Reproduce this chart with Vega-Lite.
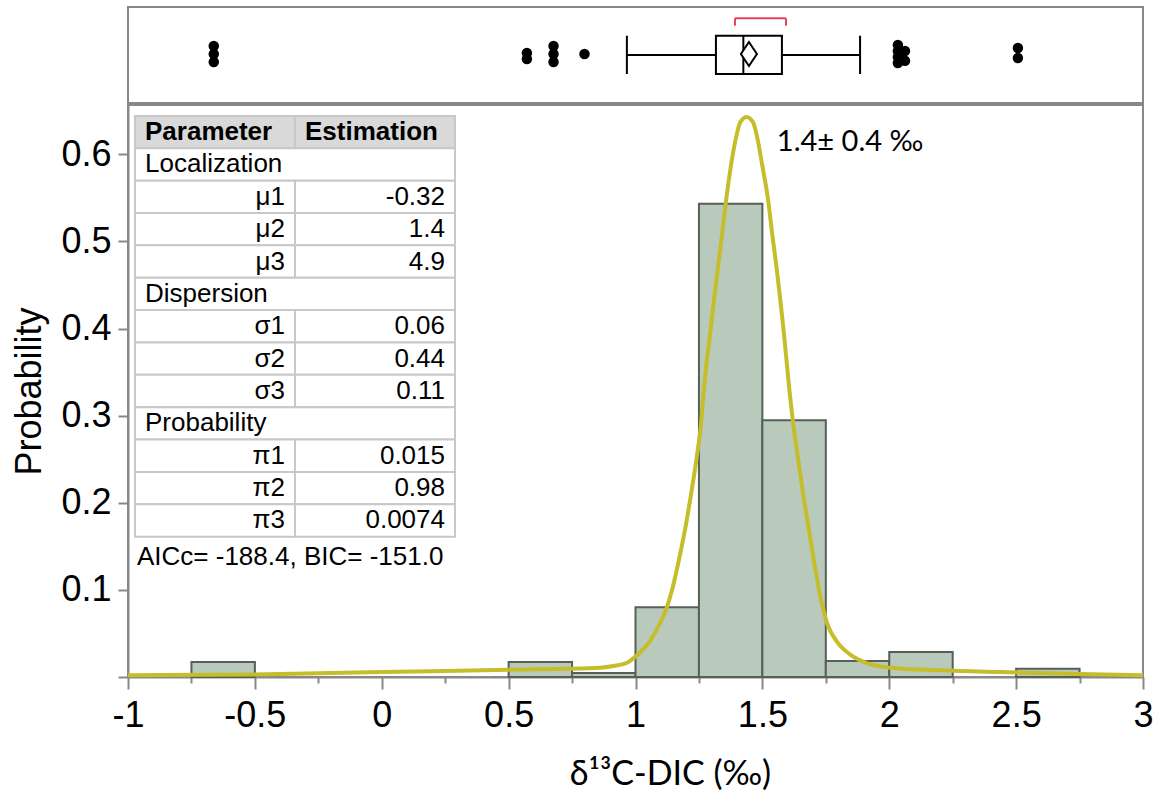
{
  "$schema": "https://vega.github.io/schema/vega-lite/v6.json",
  "padding": {"left": 10, "top": 6, "right": 16, "bottom": 5},
  "spacing": 0,
  "config": {
    "view": {"stroke": "#888888", "strokeWidth": 2},
    "axis": {"domainColor": "#888888", "domainWidth": 2, "tickColor": "#888888", "tickWidth": 2, "labelFont": "Liberation Sans", "labelFontSize": 36, "labelColor": "black", "titleColor": "black", "grid": false},
    "text": {"font": "Liberation Sans"}
  },
  "datasets": {
    "bars": [
      {"bin_start": -0.75, "bin_end": -0.5, "prob": 0.0172},
      {"bin_start": 0.5, "bin_end": 0.75, "prob": 0.0172},
      {"bin_start": 0.75, "bin_end": 1.0, "prob": 0.0046},
      {"bin_start": 1.0, "bin_end": 1.25, "prob": 0.080},
      {"bin_start": 1.25, "bin_end": 1.5, "prob": 0.5434},
      {"bin_start": 1.5, "bin_end": 1.75, "prob": 0.2947},
      {"bin_start": 1.75, "bin_end": 2.0, "prob": 0.0184},
      {"bin_start": 2.0, "bin_end": 2.25, "prob": 0.0287},
      {"bin_start": 2.5, "bin_end": 2.75, "prob": 0.0095}
    ],
    "curve": [
      {"x": -1, "p": 0.002}, {"x": -0.5, "p": 0.003}, {"x": 0, "p": 0.0057}, {"x": 0.5, "p": 0.0084},
      {"x": 0.861, "p": 0.0107}, {"x": 0.913, "p": 0.0126}, {"x": 0.965, "p": 0.0161}, {"x": 1.011, "p": 0.0264},
      {"x": 1.057, "p": 0.0413}, {"x": 1.094, "p": 0.0602}, {"x": 1.123, "p": 0.0796}, {"x": 1.143, "p": 0.0987},
      {"x": 1.173, "p": 0.1369}, {"x": 1.199, "p": 0.1752}, {"x": 1.221, "p": 0.2135}, {"x": 1.241, "p": 0.2518},
      {"x": 1.258, "p": 0.29}, {"x": 1.269, "p": 0.3284}, {"x": 1.278, "p": 0.355}, {"x": 1.294, "p": 0.394},
      {"x": 1.309, "p": 0.432}, {"x": 1.325, "p": 0.47}, {"x": 1.341, "p": 0.508}, {"x": 1.357, "p": 0.547},
      {"x": 1.375, "p": 0.585}, {"x": 1.399, "p": 0.623}, {"x": 1.413, "p": 0.637}, {"x": 1.438, "p": 0.643},
      {"x": 1.463, "p": 0.637}, {"x": 1.477, "p": 0.623}, {"x": 1.501, "p": 0.585}, {"x": 1.523, "p": 0.547},
      {"x": 1.539, "p": 0.508}, {"x": 1.556, "p": 0.47}, {"x": 1.571, "p": 0.432}, {"x": 1.585, "p": 0.394},
      {"x": 1.598, "p": 0.355}, {"x": 1.607, "p": 0.328}, {"x": 1.622, "p": 0.29}, {"x": 1.64, "p": 0.252},
      {"x": 1.659, "p": 0.213}, {"x": 1.68, "p": 0.175}, {"x": 1.701, "p": 0.137}, {"x": 1.724, "p": 0.099},
      {"x": 1.738, "p": 0.08}, {"x": 1.757, "p": 0.06}, {"x": 1.793, "p": 0.041}, {"x": 1.845, "p": 0.026},
      {"x": 1.911, "p": 0.016}, {"x": 2.003, "p": 0.0107}, {"x": 2.2, "p": 0.0078}, {"x": 2.44, "p": 0.0057},
      {"x": 2.7, "p": 0.0038}, {"x": 3.0, "p": 0.002}
    ],
    "outliers": [
      {"x": -0.662, "y": 0.594}, {"x": -0.662, "y": 0.51}, {"x": -0.662, "y": 0.427},
      {"x": 0.572, "y": 0.521}, {"x": 0.572, "y": 0.458},
      {"x": 0.677, "y": 0.594}, {"x": 0.677, "y": 0.51}, {"x": 0.677, "y": 0.427},
      {"x": 0.799, "y": 0.51},
      {"x": 2.034, "y": 0.604}, {"x": 2.034, "y": 0.542}, {"x": 2.034, "y": 0.479}, {"x": 2.034, "y": 0.417},
      {"x": 2.062, "y": 0.542}, {"x": 2.062, "y": 0.44},
      {"x": 2.507, "y": 0.573}, {"x": 2.507, "y": 0.469}
    ],
    "box": [
      {"lo": 0.966, "q1": 1.317, "median": 1.425, "mean": 1.447, "q3": 1.577, "hi": 1.885, "ci_lo": 1.392, "ci_hi": 1.593}
    ],
    "table": [
      {"row": 0, "c0": 0, "c1": 1, "label": "Parameter", "kind": "header"},
      {"row": 0, "c0": 1, "c1": 2, "label": "Estimation", "kind": "header"},
      {"row": 1, "c0": 0, "c1": 2, "label": "Localization", "kind": "section"},
      {"row": 2, "c0": 0, "c1": 1, "label": "μ1", "kind": "param"},
      {"row": 2, "c0": 1, "c1": 2, "label": "-0.32", "kind": "param"},
      {"row": 3, "c0": 0, "c1": 1, "label": "μ2", "kind": "param"},
      {"row": 3, "c0": 1, "c1": 2, "label": "1.4", "kind": "param"},
      {"row": 4, "c0": 0, "c1": 1, "label": "μ3", "kind": "param"},
      {"row": 4, "c0": 1, "c1": 2, "label": "4.9", "kind": "param"},
      {"row": 5, "c0": 0, "c1": 2, "label": "Dispersion", "kind": "section"},
      {"row": 6, "c0": 0, "c1": 1, "label": "σ1", "kind": "param"},
      {"row": 6, "c0": 1, "c1": 2, "label": "0.06", "kind": "param"},
      {"row": 7, "c0": 0, "c1": 1, "label": "σ2", "kind": "param"},
      {"row": 7, "c0": 1, "c1": 2, "label": "0.44", "kind": "param"},
      {"row": 8, "c0": 0, "c1": 1, "label": "σ3", "kind": "param"},
      {"row": 8, "c0": 1, "c1": 2, "label": "0.11", "kind": "param"},
      {"row": 9, "c0": 0, "c1": 2, "label": "Probability", "kind": "section"},
      {"row": 10, "c0": 0, "c1": 1, "label": "π1", "kind": "param"},
      {"row": 10, "c0": 1, "c1": 2, "label": "0.015", "kind": "param"},
      {"row": 11, "c0": 0, "c1": 1, "label": "π2", "kind": "param"},
      {"row": 11, "c0": 1, "c1": 2, "label": "0.98", "kind": "param"},
      {"row": 12, "c0": 0, "c1": 1, "label": "π3", "kind": "param"},
      {"row": 12, "c0": 1, "c1": 2, "label": "0.0074", "kind": "param"},
      {"row": 13, "c0": 0, "c1": 2, "label": "AICc= -188.4, BIC= -151.0", "kind": "footer"}
    ],
    "note": [{"label": "1.4± 0.4 ‰"}]
  },
  "vconcat": [
    {
      "width": 1015,
      "height": 96,
      "layer": [
        {
          "data": {"name": "box"},
          "mark": {"type": "rule", "color": "black", "strokeWidth": 2},
          "encoding": {
            "x": {"field": "lo", "type": "quantitative", "scale": {"domain": [-1, 3], "nice": false, "zero": false}, "axis": null},
            "x2": {"field": "q1"},
            "y": {"datum": 0.5, "type": "quantitative", "scale": {"domain": [0, 1], "nice": false, "zero": false}, "axis": null}
          }
        },
        {
          "data": {"name": "box"},
          "mark": {"type": "rule", "color": "black", "strokeWidth": 2},
          "encoding": {
            "x": {"field": "q3", "type": "quantitative"},
            "x2": {"field": "hi"},
            "y": {"datum": 0.5, "type": "quantitative"}
          }
        },
        {
          "data": {"name": "box"},
          "mark": {"type": "rule", "color": "black", "strokeWidth": 2},
          "encoding": {
            "x": {"field": "lo", "type": "quantitative"},
            "y": {"datum": 0.302, "type": "quantitative"},
            "y2": {"datum": 0.701}
          }
        },
        {
          "data": {"name": "box"},
          "mark": {"type": "rule", "color": "black", "strokeWidth": 2},
          "encoding": {
            "x": {"field": "hi", "type": "quantitative"},
            "y": {"datum": 0.302, "type": "quantitative"},
            "y2": {"datum": 0.701}
          }
        },
        {
          "data": {"name": "box"},
          "mark": {"type": "rect", "fill": "white", "stroke": "black", "strokeWidth": 2},
          "encoding": {
            "x": {"field": "q1", "type": "quantitative"},
            "x2": {"field": "q3"},
            "y": {"datum": 0.302, "type": "quantitative"},
            "y2": {"datum": 0.701}
          }
        },
        {
          "data": {"name": "box"},
          "mark": {"type": "rule", "color": "black", "strokeWidth": 2},
          "encoding": {
            "x": {"field": "median", "type": "quantitative"},
            "y": {"datum": 0.302, "type": "quantitative"},
            "y2": {"datum": 0.701}
          }
        },
        {
          "data": {"name": "box"},
          "mark": {"type": "point", "shape": "M0,-1L0.667,0L0,1L-0.667,0Z", "size": 576, "filled": false, "fill": "white", "fillOpacity": 1, "stroke": "black", "strokeWidth": 2, "opacity": 1},
          "encoding": {
            "x": {"field": "mean", "type": "quantitative"},
            "y": {"datum": 0.51, "type": "quantitative"}
          }
        },
        {
          "data": {"name": "box"},
          "mark": {"type": "rule", "color": "#e8435a", "strokeWidth": 2},
          "encoding": {
            "x": {"field": "ci_lo", "type": "quantitative"},
            "x2": {"field": "ci_hi"},
            "y": {"datum": 0.882, "type": "quantitative"}
          }
        },
        {
          "data": {"name": "box"},
          "mark": {"type": "rule", "color": "#e8435a", "strokeWidth": 2},
          "encoding": {
            "x": {"field": "ci_lo", "type": "quantitative"},
            "y": {"datum": 0.805, "type": "quantitative"},
            "y2": {"datum": 0.882}
          }
        },
        {
          "data": {"name": "box"},
          "mark": {"type": "rule", "color": "#e8435a", "strokeWidth": 2},
          "encoding": {
            "x": {"field": "ci_hi", "type": "quantitative"},
            "y": {"datum": 0.805, "type": "quantitative"},
            "y2": {"datum": 0.882}
          }
        },
        {
          "data": {"name": "outliers"},
          "mark": {"type": "circle", "color": "black", "size": 110, "opacity": 1},
          "encoding": {
            "x": {"field": "x", "type": "quantitative"},
            "y": {"field": "y", "type": "quantitative"}
          }
        }
      ]
    },
    {
      "width": 1015,
      "height": 572,
      "layer": [
        {
          "layer": [
            {
              "data": {"name": "bars"},
              "mark": {"type": "rect", "fill": "#b9cabc", "stroke": "#556058", "strokeWidth": 2},
              "encoding": {
                "x": {
                  "field": "bin_start", "type": "quantitative",
                  "scale": {"domain": [-1, 3], "nice": false, "zero": false},
                  "axis": {
                    "values": [-1, -0.75, -0.5, -0.25, 0, 0.25, 0.5, 0.75, 1, 1.25, 1.5, 1.75, 2, 2.25, 2.5, 2.75, 3],
                    "labelExpr": "abs(datum.value*2 - round(datum.value*2)) < 0.001 ? datum.value + '' : ''",
                    "tickSize": {"condition": {"test": "abs(datum.value*2 - round(datum.value*2)) < 0.001", "value": 12}, "value": 6},
                    "labelPadding": 9,
                    "labelOverlap": false,
                    "labelFlush": false,
                    "title": "δ¹³C-DIC (‰)",
                    "titleFont": "Lato",
                    "titleFontSize": 34,
                    "titleFontWeight": "normal",
                    "titleX": 542,
                    "titleY": 80
                  }
                },
                "x2": {"field": "bin_end"},
                "y": {
                  "field": "prob", "type": "quantitative",
                  "scale": {"domain": [0, 0.6567], "nice": false, "zero": true},
                  "axis": {
                    "values": [0, 0.1, 0.2, 0.3, 0.4, 0.5, 0.6],
                    "labelExpr": "datum.value == 0 ? '' : format(datum.value, '.1f')",
                    "tickSize": 10,
                    "labelPadding": 7,
                    "title": "Probability",
                    "titleFont": "Liberation Sans",
                    "titleFontSize": 36,
                    "titleFontWeight": "normal",
                    "titlePadding": 12
                  }
                },
                "y2": {"datum": 0}
              }
            },
            {
              "data": {"name": "curve"},
              "mark": {"type": "line", "color": "#c6bd2b", "strokeWidth": 4, "interpolate": "monotone"},
              "encoding": {
                "x": {"field": "x", "type": "quantitative"},
                "y": {"field": "p", "type": "quantitative"}
              }
            },
            {
              "data": {"name": "note"},
              "mark": {"type": "text", "font": "Lato", "fontSize": 29, "align": "left", "baseline": "middle", "color": "black"},
              "encoding": {
                "x": {"datum": 1.557, "type": "quantitative"},
                "y": {"datum": 0.614, "type": "quantitative"},
                "text": {"field": "label"}
              }
            }
          ]
        },
        {
          "data": {"name": "table"},
          "layer": [
            {
              "transform": [{"filter": "datum.kind !== 'footer'"}],
              "mark": {"type": "rect", "stroke": "#c8c8c8", "strokeWidth": 2},
              "encoding": {
                "x": {"field": "c0", "type": "quantitative", "scale": {"domain": [-0.04375, 6.30], "nice": false, "zero": false}, "axis": null},
                "x2": {"field": "c1"},
                "y": {"field": "row", "type": "ordinal", "scale": {"domain": [0, 1, 2, 3, 4, 5, 6, 7, 8, 9, 10, 11, 12, 13, 14, 15, 16], "paddingInner": 0, "paddingOuter": 0.337}, "axis": null},
                "fill": {"condition": {"test": "datum.kind === 'header'", "value": "#d9d9d9"}, "value": "white"}
              }
            },
            {
              "transform": [{"filter": "datum.kind === 'header'"}],
              "mark": {"type": "text", "align": "left", "baseline": "middle", "dx": 10, "fontSize": 26, "fontWeight": "bold", "color": "black"},
              "encoding": {
                "x": {"field": "c0", "type": "quantitative"},
                "y": {"field": "row", "type": "ordinal"},
                "text": {"field": "label"}
              }
            },
            {
              "transform": [{"filter": "datum.kind === 'section'"}],
              "mark": {"type": "text", "align": "left", "baseline": "middle", "dx": 10, "fontSize": 26, "color": "black"},
              "encoding": {
                "x": {"field": "c0", "type": "quantitative"},
                "y": {"field": "row", "type": "ordinal"},
                "text": {"field": "label"}
              }
            },
            {
              "transform": [{"filter": "datum.kind === 'param'"}],
              "mark": {"type": "text", "align": "right", "baseline": "middle", "dx": -10, "fontSize": 26, "color": "black"},
              "encoding": {
                "x": {"field": "c1", "type": "quantitative"},
                "y": {"field": "row", "type": "ordinal"},
                "text": {"field": "label"}
              }
            },
            {
              "transform": [{"filter": "datum.kind === 'footer'"}],
              "mark": {"type": "text", "align": "left", "baseline": "middle", "dx": 2, "dy": 4, "fontSize": 26, "color": "black"},
              "encoding": {
                "x": {"field": "c0", "type": "quantitative"},
                "y": {"field": "row", "type": "ordinal"},
                "text": {"field": "label"}
              }
            }
          ]
        }
      ],
      "resolve": {"scale": {"x": "independent", "y": "independent"}}
    }
  ]
}
